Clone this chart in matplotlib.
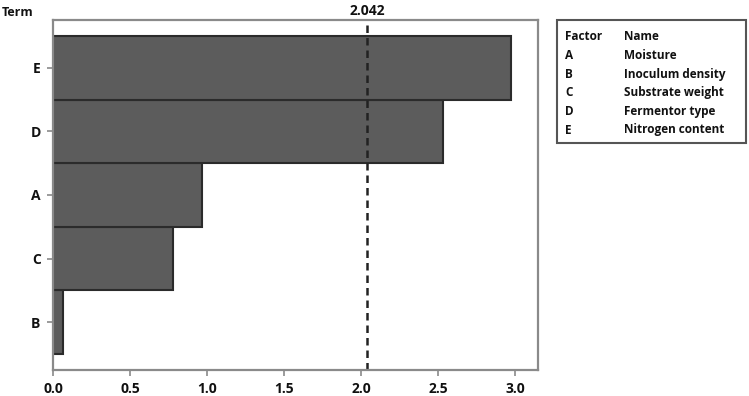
import matplotlib.pyplot as plt
from matplotlib.patches import Rectangle

# Pareto-style effect chart
terms = ["B", "C", "A", "D", "E"]
effects = [0.065, 0.78, 0.97, 2.53, 2.975]
ref_value = 2.042
xticks = [0.0, 0.5, 1.0, 1.5, 2.0, 2.5, 3.0]

factor_codes = ["A", "B", "C", "D", "E"]
factor_names = ["Moisture", "Inoculum density", "Substrate weight",
                "Fermentor type", "Nitrogen content"]

plt.rcParams['font.family'] = ['Open Sans', 'DejaVu Sans']

fig = plt.figure(figsize=(7.49, 3.96), dpi=100)
ax = fig.add_axes([0.0708, 0.0657, 0.6475, 0.8838])

ax.barh(range(len(terms)), effects, height=1.0, color='#5c5c5c',
        edgecolor='#2b2b2b', linewidth=1.5)
ax.axvline(ref_value, color='#222222', linestyle=(0, (3, 2)), linewidth=1.8)

ax.set_xlim(0, 3.15)
ax.set_ylim(-0.75, 4.75)
ax.set_yticks(range(len(terms)))
ax.set_yticklabels(terms)
ax.set_xticks(xticks)
ax.set_xticklabels([f"{t:.1f}" for t in xticks])

for sp in ax.spines.values():
    sp.set_color('#8a8a8a')
    sp.set_linewidth(1.6)
ax.tick_params(axis='both', colors='#8a8a8a', length=4, width=1.2,
               labelcolor='#111111', labelsize=10)
for lbl in ax.get_xticklabels() + ax.get_yticklabels():
    lbl.set_fontweight('bold')
ax.tick_params(axis='y', pad=5)
ax.tick_params(axis='x', pad=5)

ax.text(ref_value, 1.005, f"{ref_value:.3f}", transform=ax.get_xaxis_transform(),
        ha='center', va='bottom', fontsize=10, fontweight='bold', color='#111111')
fig.text(0.003, 0.985, "Term", ha='left', va='top', fontsize=9,
         fontweight='bold', color='#111111')

# legend table on the right
x0, x1 = 557 / 749, 746 / 749
y_top, y_bot = 1 - 20 / 396, 1 - 143 / 396
fig.patches.append(Rectangle((x0, y_bot), x1 - x0, y_top - y_bot,
                             transform=fig.transFigure, fill=False,
                             edgecolor='#555555', linewidth=1.5))
rows = [("Factor", "Name")] + list(zip(factor_codes, factor_names))
for i, (code, name) in enumerate(rows):
    y = 1 - (37 + i * 18.6) / 396
    fig.text(565 / 749, y, code, ha='left', va='center', fontsize=8.5,
             fontweight='bold', color='#111111')
    fig.text(624 / 749, y, name, ha='left', va='center', fontsize=8.5,
             fontweight='bold', color='#111111')

fig.savefig("out.png", dpi=100)
